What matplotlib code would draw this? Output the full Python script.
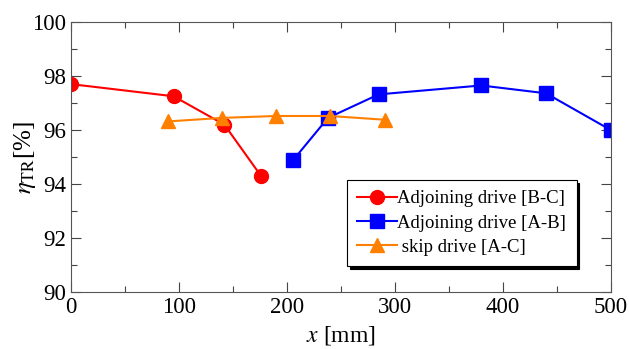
import matplotlib.pyplot as plt
from matplotlib.ticker import MultipleLocator

plt.rcParams['font.family'] = ['Liberation Serif', 'DejaVu Serif']
plt.rcParams['mathtext.fontset'] = 'stix'

# データ
x_bc = [0, 95, 142, 176]
eta_bc = [97.7, 97.25, 96.2, 94.3]

x_ab = [206, 238, 285, 380, 440, 500]
eta_ab = [94.9, 96.45, 97.32, 97.65, 97.36, 96.0]

x_ac = [90, 140, 190, 240, 291]
eta_ac = [96.32, 96.45, 96.52, 96.52, 96.38]

labels = ['Adjoining drive [B-C]', 'Adjoining drive [A-B]', ' skip drive [A-C]']

fig = plt.figure(figsize=(6.29, 3.49), dpi=100)
ax = fig.add_axes([0.113, 0.163, 0.858, 0.774])

ax.plot(x_bc, eta_bc, '-o', color='#ff0000', mec='#ff0000', lw=1.5, ms=10, label=labels[0])
ax.plot(x_ab, eta_ab, '-s', color='#0000ff', mec='#0000ff', lw=1.5, ms=9.5, label=labels[1])
ax.plot(x_ac, eta_ac, '-^', color='#ff8000', mec='#ff8000', lw=1.5, ms=10.5, label=labels[2])

ax.set_xlim(0, 500)
ax.set_ylim(90, 100)
ax.xaxis.set_major_locator(MultipleLocator(100))
ax.xaxis.set_minor_locator(MultipleLocator(50))
ax.yaxis.set_major_locator(MultipleLocator(2))
ax.yaxis.set_minor_locator(MultipleLocator(1))
ax.tick_params(which='both', direction='in', top=True, right=True, labelsize=16.5, width=0.8, color='#444444')
ax.tick_params(which='major', length=7)
ax.tick_params(which='minor', length=4)
for s in ax.spines.values():
    s.set_color('#555555')

ax.set_xlabel('$x$ [mm]', fontsize=17, labelpad=4)
ax.set_ylabel(r'$\eta_{\mathrm{TR}}$[%]', fontsize=18, labelpad=-4)

# 凡例（影付き）
leg = ax.legend(loc='upper left', bbox_to_anchor=(0.511, 0.415), borderaxespad=0,
                fontsize=13.5, fancybox=False, edgecolor='black',
                shadow={'color': 'black', 'alpha': 1},
                handlelength=2.1, handletextpad=0.05, labelspacing=0.38,
                borderpad=0.55, framealpha=1)
leg.get_frame().set_linewidth(0.8)

fig.savefig('out.png', dpi=100)
